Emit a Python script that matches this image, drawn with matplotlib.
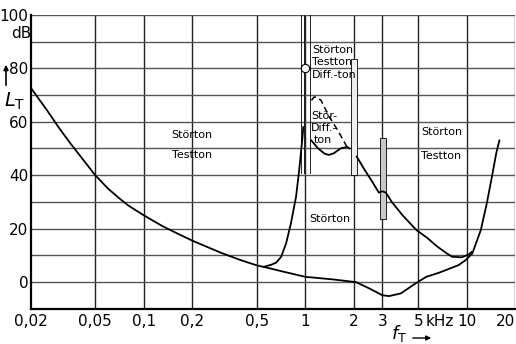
import numpy as np
import matplotlib.pyplot as plt
from matplotlib.patches import Rectangle
from matplotlib import font_manager

# Schriften: schmale Variante, wenn vorhanden
fonts = font_manager.fontManager.ttflist
names = {f.name for f in fonts}
if 'Liberation Sans Narrow' in names:
    plt.rcParams['font.family'] = ['Liberation Sans Narrow', 'DejaVu Sans']
else:
    plt.rcParams['font.family'] = ['DejaVu Sans']
plt.rcParams['hatch.linewidth'] = 0.5

# Daten
haupt_f = [0.02, 0.025, 0.03, 0.035, 0.04, 0.05, 0.06, 0.07, 0.08, 0.1, 0.13, 0.16,
           0.2, 0.3, 0.4, 0.5, 0.6, 0.7, 0.85, 1.0, 1.5, 2.06, 2.5, 3.0, 3.3, 3.9,
           4.8, 5.6, 6.7, 8.9, 9.8, 10.8, 12.2, 13.3, 14.3, 15.2, 15.9]
haupt_L = [72.6, 64.5, 57.5, 52, 47.5, 40, 35, 31.5, 28.7, 25, 21, 18.3,
           15.5, 11, 8.2, 6.3, 5.2, 4.2, 3.0, 2.0, 1.0, 0, -2.4, -4.9, -5.2, -4.2,
           -0.5, 2.0, 3.5, 6.4, 8.2, 10.7, 19.5, 29.6, 39.5, 48.2, 53]

steil_f = [0.558, 0.62, 0.659, 0.708, 0.76, 0.814, 0.876, 0.916, 0.961, 0.971]
steil_L = [5.8, 6.6, 7.3, 9.5, 14.5, 22, 32, 42, 54.5, 58]

diff_f = [1.09, 1.2, 1.32, 1.4, 1.5, 1.65, 1.81, 1.88]
diff_L = [53, 50, 48, 47.6, 48.2, 50, 50.6, 50]

diff_gestr_f = [1.09, 1.13, 1.17, 1.25, 1.4, 1.58, 1.81]
diff_gestr_L = [68, 69.2, 69.3, 68, 62, 57, 50.6]

mitte_f = [2.08, 2.3, 2.6, 2.85, 3.0, 3.15, 3.43, 4.0, 4.87, 5.7, 6.5, 7.5, 8.1, 9.3, 10.3, 10.7]
mitte_L = [47, 42.5, 37.5, 33.5, 34, 33.5, 30, 25, 19.5, 16.5, 13.5, 10.8, 9.5, 9.3, 10.4, 11.3]

xticks = [0.02, 0.05, 0.1, 0.2, 0.5, 1, 2, 3, 5, 10, 20]
xlabels = ['0,02', '0,05', '0,1', '0,2', '0,5', '1', '2', '3', '5', '10', '20']
yticks = [0, 20, 40, 60, 80, 100]

fig = plt.figure(figsize=(5.16, 3.44), dpi=100)
ax = fig.add_axes([0.060, 0.102, 0.939, 0.855])
ax.set_xscale('log')
ax.set_xlim(0.02, 20)
ax.set_ylim(-10, 100)

# Gitter
for x in xticks[1:]:
    ax.axvline(x, color='#222222', lw=1.0, zorder=1)
for y in range(-10, 101, 10):
    ax.axhline(y, color='#555555', lw=1.0, zorder=1)

for s in ['top', 'right']:
    ax.spines[s].set_visible(False)
ax.spines['left'].set_linewidth(1.6)
ax.spines['bottom'].set_linewidth(1.6)

ax.set_xticks(xticks)
ax.set_xticklabels(xlabels)
ax.set_xticks([], minor=True)
ax.set_yticks(yticks)
ax.set_yticklabels([str(y) for y in yticks])
ax.tick_params(length=0, labelsize=11, pad=2)
ax.tick_params(axis='x', pad=4)
xl = ax.get_xticklabels()
xl[-1].set_ha('right')
for lab in xl:
    lab.set_clip_on(False)

# Kurven
ax.plot(haupt_f, haupt_L, color='black', lw=1.3, zorder=3)
ax.plot(steil_f, steil_L, color='black', lw=1.3, zorder=3)
ax.plot(diff_f, diff_L, color='black', lw=1.3, zorder=3)
ax.plot(diff_gestr_f, diff_gestr_L, color='black', lw=1.1, ls=(0, (4, 2.5)), zorder=3)
ax.plot(mitte_f, mitte_L, color='black', lw=1.3, zorder=3)

# senkrechte Doppellinien / Bänder
for x in [0.939, 0.975, 1.07]:
    ax.plot([x, x], [41, 100], color='black', lw=0.6, zorder=2)
ax.add_patch(Rectangle((1.91, 40), 2.08 - 1.91, 83.5 - 40, facecolor='#eeeeee',
                       edgecolor='black', lw=0.6, zorder=2))
ax.add_patch(Rectangle((2.90, 23.6), 3.14 - 2.90, 54 - 23.6, facecolor='#c8c8c8',
                       edgecolor='black', lw=0.6, hatch='||', zorder=2))
ax.plot([1.0], [80], marker='o', ms=6, mfc='white', mec='black', mew=0.8, zorder=4)

# Beschriftungen im Diagramm
ts = 8
ax.text(0.198, 55, 'Störton', ha='center', va='center', fontsize=ts)
ax.text(0.198, 47.5, 'Testton', ha='center', va='center', fontsize=ts)
ax.text(1.1, 87, 'Störton', ha='left', va='center', fontsize=ts)
ax.text(1.1, 82.3, 'Testton', ha='left', va='center', fontsize=ts)
ax.text(1.1, 77.3, 'Diff.-ton', ha='left', va='center', fontsize=ts)
ax.text(1.08, 62, 'Stör-', ha='left', va='center', fontsize=ts)
ax.text(1.08, 57.5, 'Diff.-', ha='left', va='center', fontsize=ts)
ax.text(1.13, 53, 'ton', ha='left', va='center', fontsize=ts)
ax.text(5.2, 56, 'Störton', ha='left', va='center', fontsize=ts)
ax.text(5.2, 47.3, 'Testton', ha='left', va='center', fontsize=ts)
ax.text(1.06, 23.6, 'Störton', ha='left', va='center', fontsize=ts)

# Achsenbeschriftungen
fig.text(11 / 516, 1 - 33 / 344, 'dB', ha='left', va='center', fontsize=11)
fig.text(4 / 516, 1 - 101 / 344, r'$\mathit{L}_{\mathrm{T}}$', ha='left', va='center',
         fontsize=14)
ax.annotate('', xy=(6 / 516, 1 - 62 / 344), xytext=(6 / 516, 1 - 88 / 344),
            xycoords='figure fraction',
            arrowprops=dict(arrowstyle='-|>', color='black', lw=1.2, mutation_scale=7))
fig.text(426 / 516, 1 - 321 / 344, 'kHz', ha='left', va='center', fontsize=11)
fig.text(399 / 516, 1 - 333 / 344, r'$\mathit{f}_{\mathrm{T}}$', ha='center', va='center',
         fontsize=13)
ax.annotate('', xy=(434 / 516, 1 - 338 / 344), xytext=(410 / 516, 1 - 338 / 344),
            xycoords='figure fraction',
            arrowprops=dict(arrowstyle='-|>', color='black', lw=1.0, mutation_scale=7))

fig.savefig('out.png', dpi=100)
